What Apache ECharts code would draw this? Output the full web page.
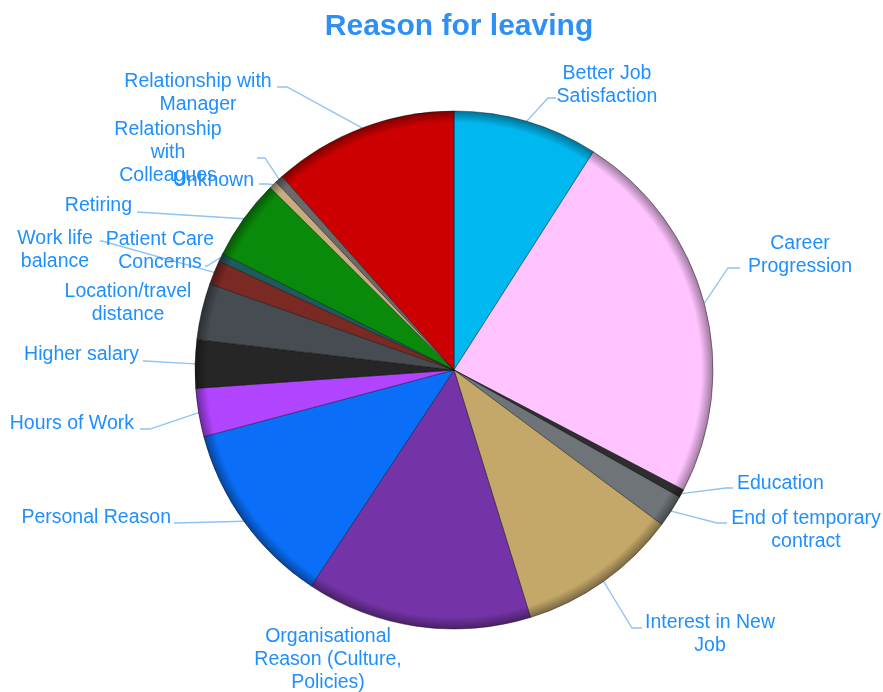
<!DOCTYPE html>
<html>
<head>
<meta charset="utf-8">
<script src="https://cdn.jsdelivr.net/npm/echarts@6/dist/echarts.min.js"></script>
<style>
html,body{margin:0;padding:0;background:#fff;}
#chart{width:883px;height:692px;}
</style>
</head>
<body>
<div id="chart"></div>
<script>
const categories = ['Better Job Satisfaction','Career Progression','Education','End of temporary contract','Interest in New Job','Organisational Reason (Culture, Policies)','Personal Reason','Hours of Work','Higher salary','Location/travel distance','Work life balance','Patient Care Concerns','Retiring','Unknown','Relationship with Colleagues','Relationship with Manager'];
const values = [18,47,1,4,20,28,23,6,6,7,3,1,10,1,1,23];
const labelTexts = ['Better Job\nSatisfaction','Career\nProgression','Education','End of temporary\ncontract','Interest in New\nJob','Organisational\nReason (Culture,\nPolicies)','Personal Reason','Hours of Work','Higher salary','Location/travel\ndistance','Work life\nbalance','Patient Care\nConcerns','Retiring','Unknown','Relationship\nwith\nColleagues','Relationship with\nManager'];
const colors = ['#00B8F0','#FFC3FF','#2E2E2E','#6E7478','#C4A86A','#7433A6','#0A6EF8','#B044FF','#262626','#474B52','#7A2A22','#1D5C5A','#0A8A0A','#C8AC80','#6A6A6A','#CC0000'];

// label placement: [x, y, align, bendX, bendY, endX, endY] (null bend => no line)
const labelPlace = [
  [607, 85, 'center', 548, 98, 556, 98],
  [800, 255, 'center', 728, 268, 740, 268],
  [737, 484, 'left', 726, 488, 733, 488],
  [806, 530, 'center', 717, 523, 727, 523],
  [710, 634, 'center', 632, 628, 642, 628],
  [328, 660, 'center', null],
  [171, 518, 'right', 176, 523, 174, 523],
  [134, 424, 'right', 150, 429, 140, 429],
  [139, 355, 'right', 145, 361, 143, 361],
  [128, 303, 'center', null],
  [55, 250, 'center', 102, 241, 100, 241],
  [160, 251, 'center', 207, 266, 205, 266],
  [132, 206, 'right', 137, 212, 137, 212],
  [254, 181, 'right', 268, 184, 259, 184],
  [168, 153, 'center', 265, 158, 257, 158],
  [198, 93, 'center', 287, 87, 277, 87]
];

const CX = 454, CY = 370, R = 259;

function shade(hex, f) {
  const n = parseInt(hex.slice(1), 16);
  const r = Math.round(((n >> 16) & 255) * f), g = Math.round(((n >> 8) & 255) * f), b = Math.round((n & 255) * f);
  return 'rgb(' + r + ',' + g + ',' + b + ')';
}

const chart = echarts.init(document.getElementById('chart'), null, {renderer: 'canvas'});
const labelColor = '#1E8FFF';
const fontFam = '"Liberation Sans", Arial, sans-serif';

const data = categories.map((c, i) => ({
  name: c,
  value: values[i],
  itemStyle: {
    color: {
      type: 'radial', x: CX, y: CY, r: R, global: true,
      colorStops: [
        {offset: 0, color: colors[i]},
        {offset: 0.955, color: colors[i]},
        {offset: 1, color: shade(colors[i], 0.62)}
      ]
    }
  },
  label: {formatter: labelTexts[i]},
  labelLine: {show: labelPlace[i][3] !== null}
}));

chart.setOption({
  backgroundColor: '#ffffff',
  title: {
    text: 'Reason for leaving',
    left: 454,
    textAlign: 'center',
    top: 7,
    textStyle: {color: '#2E90F5', fontSize: 30, fontWeight: 'bold', fontFamily: fontFam}
  },
  series: [{
    type: 'pie',
    center: [CX, CY],
    radius: R,
    startAngle: 90,
    clockwise: true,
    avoidLabelOverlap: false,
    animation: false,
    data: data,
    itemStyle: {borderColor: 'rgba(0,0,0,0.4)', borderWidth: 1},
    label: {
      show: true,
      color: labelColor,
      fontSize: 19.5,
      lineHeight: 23,
      fontFamily: fontFam
    },
    labelLine: {
      show: true,
      lineStyle: {color: '#8EC3F5', width: 1.3}
    },
    labelLayout: function (params) {
      const p = labelPlace[params.dataIndex];
      const out = {x: p[0], y: p[1], align: p[2], verticalAlign: 'middle', hideOverlap: false, moveOverlap: null};
      if (p[3] !== null && params.labelLinePoints) {
        const s = params.labelLinePoints[0];
        out.labelLinePoints = [[s[0], s[1]], [p[3], p[4]], [p[5], p[6]]];
      }
      return out;
    }
  }]
});
</script>
</body>
</html>
